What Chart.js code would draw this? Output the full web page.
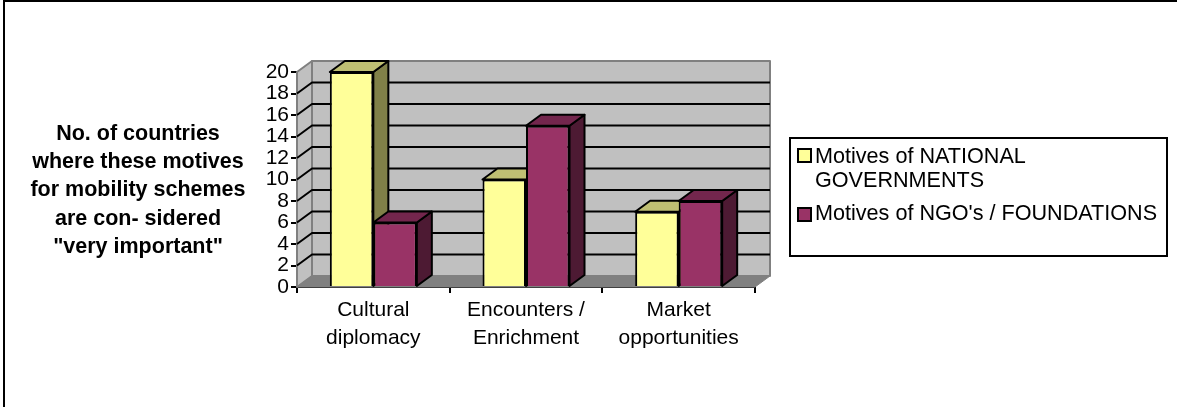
<!DOCTYPE html>
<html>
<head>
<meta charset="utf-8">
<title>Motives for mobility schemes</title>
<script src="https://cdn.jsdelivr.net/npm/chart.js@4/dist/chart.umd.min.js"></script>
<style>
    html, body { margin: 0; padding: 0; background: #fff; }
    #wrap { position: relative; width: 1177px; height: 407px; overflow: hidden; font-family: "Liberation Sans", Arial, sans-serif; color: #000; }
    #frame { position: absolute; left: 3px; top: 0; width: 1172px; height: 405px; border-left: 2px solid #000; border-top: 2px solid #000; }
    canvas { position: absolute; left: 0; top: 0; }
    #side-label { position: absolute; left: 18px; top: 119px; width: 240px; text-align: center; font-weight: bold; font-size: 21.5px; line-height: 28.2px; white-space: nowrap; }
    #legend { position: absolute; left: 789px; top: 137px; width: 375px; height: 116px; border: 2px solid #000; font-size: 21.6px; }
    .item { position: absolute; left: 24px; width: 345px; line-height: 24px; }
    .swatch { position: absolute; left: 6px; width: 11px; height: 11px; border: 2px solid #000; }
</style>
</head>
<body>
<div id="wrap">
    <div id="frame"></div>
    <canvas id="chart" width="1177" height="407"></canvas>
    <div id="side-label"></div>
    <div id="legend"></div>
</div>
<script>
const categories = [['Cultural', 'diplomacy'], ['Encounters /', 'Enrichment'], ['Market', 'opportunities']];
const nationalValues = [20, 10, 7];
const ngoValues = [6, 15, 8];
const seriesNames = ['Motives of NATIONAL GOVERNMENTS', "Motives of NGO's / FOUNDATIONS"];
const sideLabel = ['No. of countries', 'where these motives', 'for mobility schemes', 'are con- sidered', '"very important"'];
const frontColors = ['#FFFF99', '#993366'];
const sideColors = ['#808048', '#4D1A33'];
const topColors = ['#BFBF73', '#73264D'];

// depth of the 3d effect
const depthX = 15;
const depthY = 11;

const poly = (ctx, pts, fill, stroke, width) => {
    ctx.beginPath();
    pts.forEach((p, i) => i ? ctx.lineTo(p[0], p[1]) : ctx.moveTo(p[0], p[1]));
    ctx.closePath();
    if (fill) { ctx.fillStyle = fill; ctx.fill(); }
    if (stroke) { ctx.strokeStyle = stroke; ctx.lineWidth = width; ctx.lineJoin = 'round'; ctx.stroke(); }
};

// walls, floor and the side/top faces of the bars
const box3d = {
    id: 'box3d',
    beforeDatasetsDraw(chart) {
        const ctx = chart.ctx;
        const y = chart.scales.y;
        const a = chart.chartArea;
        const l = a.left, r = a.right, t = a.top, b = a.bottom;
        ctx.save();
        poly(ctx, [[l + depthX, t - depthY], [r + depthX, t - depthY], [r + depthX, b - depthY], [l + depthX, b - depthY]], '#C0C0C0', '#808080', 2);
        poly(ctx, [[l, t], [l + depthX, t - depthY], [l + depthX, b - depthY], [l, b]], '#C0C0C0', '#808080', 2);
        poly(ctx, [[l, b], [l + depthX, b - depthY], [r + depthX, b - depthY], [r, b]], '#808080', '#808080', 1);
        y.ticks.forEach(tick => {
            if (tick.value === y.min || tick.value === y.max) return;
            const py = y.getPixelForValue(tick.value);
            ctx.beginPath();
            ctx.moveTo(l, py);
            ctx.lineTo(l + depthX, py - depthY);
            ctx.lineTo(r + depthX, py - depthY);
            ctx.strokeStyle = '#000';
            ctx.lineWidth = 2;
            ctx.stroke();
        });
        chart.data.datasets.forEach((ds, di) => {
            chart.getDatasetMeta(di).data.forEach(bar => {
                const half = bar.width / 2;
                const x0 = bar.x - half, x1 = bar.x + half;
                poly(ctx, [[x1, bar.y], [x1 + depthX, bar.y - depthY], [x1 + depthX, bar.base - depthY], [x1, bar.base]], sideColors[di], '#000', 2);
                poly(ctx, [[x0, bar.y], [x0 + depthX, bar.y - depthY], [x1 + depthX, bar.y - depthY], [x1, bar.y]], topColors[di], '#000', 2);
            });
        });
        ctx.restore();
    }
};

new Chart(document.getElementById('chart'), {
    type: 'bar',
    data: {
        labels: categories,
        datasets: [
            { label: seriesNames[0], data: nationalValues, backgroundColor: frontColors[0] },
            { label: seriesNames[1], data: ngoValues, backgroundColor: frontColors[1] }
        ].map(ds => ({ ...ds, borderColor: '#000', borderWidth: 2, categoryPercentage: 0.57, barPercentage: 1 }))
    },
    options: {
        responsive: false,
        animation: false,
        layout: { padding: { top: 72, right: 422, left: 0, bottom: 0 } },
        plugins: { legend: { display: false }, tooltip: { enabled: false } },
        scales: {
            x: {
                grid: { offset: true, drawOnChartArea: false, color: '#000', lineWidth: 2, tickLength: 6 },
                border: { color: '#000', width: 2 },
                ticks: { color: '#000', font: { family: 'Liberation Sans', size: 21, lineHeight: 1.3 }, maxRotation: 0, padding: 4 },
                afterFit: scale => { scale.height = 120; }
            },
            y: {
                min: 0,
                max: 20,
                grid: { drawOnChartArea: false, color: '#000', lineWidth: 2, tickLength: 6 },
                border: { color: '#000', width: 2 },
                ticks: { stepSize: 2, autoSkip: false, color: '#000', font: { family: 'Liberation Sans', size: 21 }, padding: 2 },
                afterFit: scale => { scale.width = 297; }
            }
        }
    },
    plugins: [box3d]
});

document.getElementById('side-label').innerHTML = sideLabel.join('<br>');

const legend = document.getElementById('legend');
[[seriesNames[0], 5, 9], [seriesNames[1], 62, 68]].forEach((row, i) => {
    const item = document.createElement('div');
    item.className = 'item';
    item.style.top = row[1] + 'px';
    item.textContent = row[0];
    legend.appendChild(item);
    const swatch = document.createElement('div');
    swatch.className = 'swatch';
    swatch.style.top = row[2] + 'px';
    swatch.style.background = frontColors[i];
    legend.appendChild(swatch);
});
</script>
</body>
</html>
